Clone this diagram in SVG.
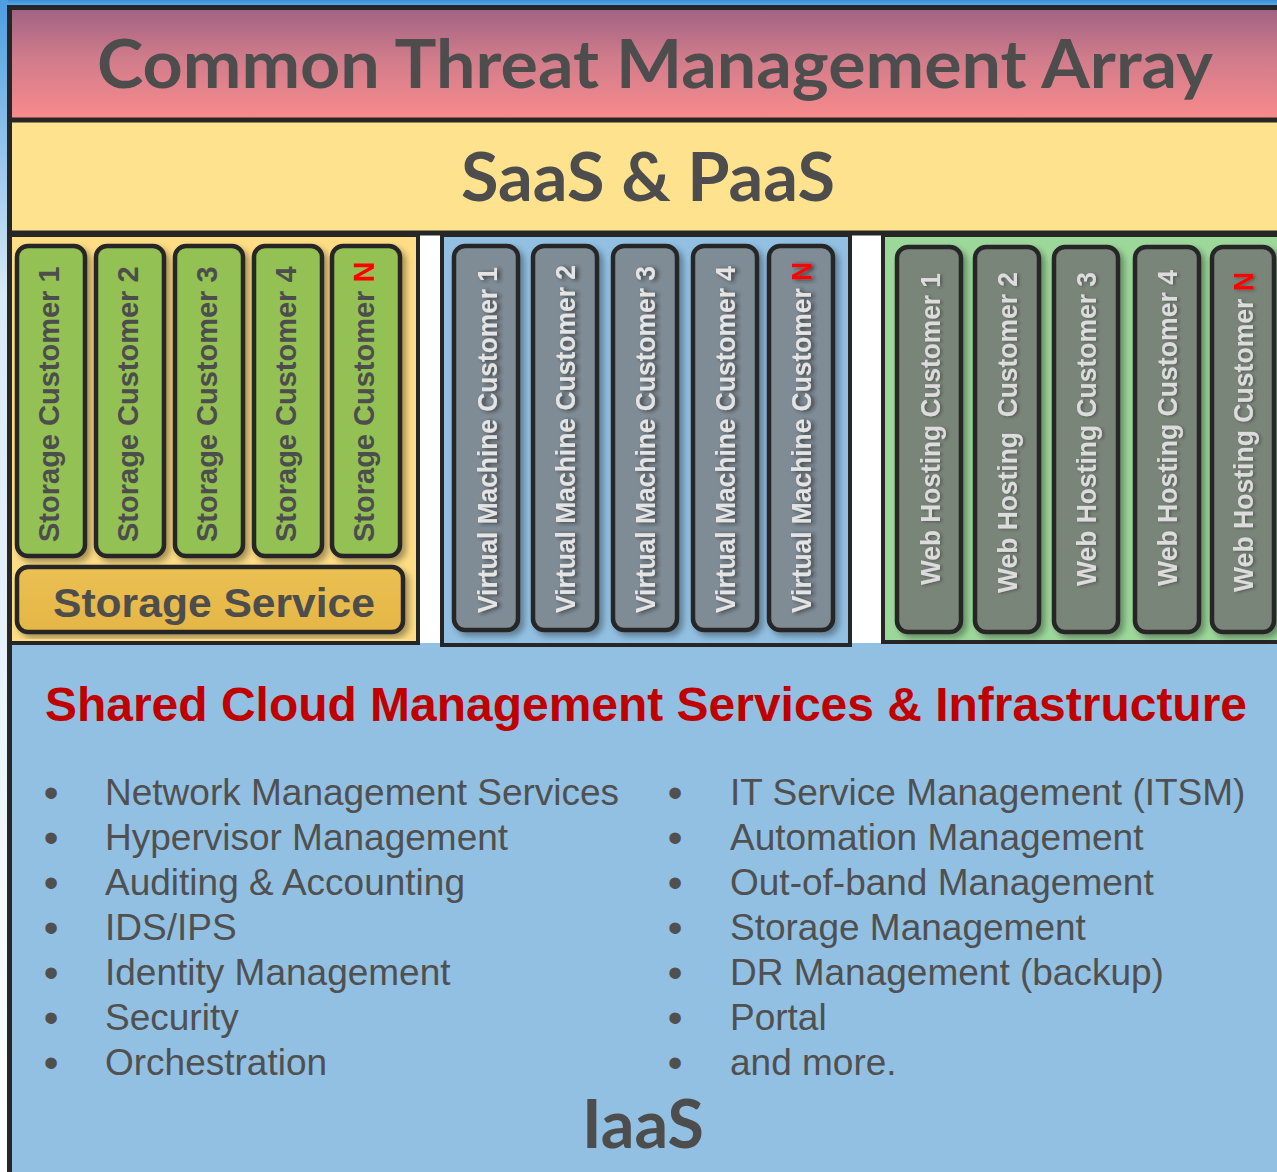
<svg xmlns="http://www.w3.org/2000/svg" width="1277" height="1172" viewBox="0 0 1277 1172">
<defs>
<linearGradient id="sky" x1="0" y1="0" x2="0" y2="1">
<stop offset="0" stop-color="#3a8fdc"/><stop offset="1" stop-color="#6cb8ee"/>
</linearGradient>
<linearGradient id="skyL" x1="0" y1="0" x2="0" y2="1">
<stop offset="0" stop-color="#4d9de0"/><stop offset="0.25" stop-color="#d8e9f7"/><stop offset="1" stop-color="#ffffff"/>
</linearGradient>
<linearGradient id="titleG" x1="0" y1="0" x2="0" y2="1">
<stop offset="0" stop-color="#a06283"/><stop offset="0.45" stop-color="#d07c8b"/><stop offset="1" stop-color="#f98b8c"/>
</linearGradient>
<linearGradient id="svcG" x1="0" y1="0" x2="0" y2="1">
<stop offset="0" stop-color="#ebc052"/><stop offset="1" stop-color="#e4b646"/>
</linearGradient>
<filter id="colShadow" x="-20%" y="-10%" width="150%" height="120%">
<feDropShadow dx="4" dy="4" stdDeviation="3" flood-color="#000" flood-opacity="0.35"/>
</filter>
<filter id="txtShadow" x="-10%" y="-40%" width="120%" height="200%">
<feDropShadow dx="-1" dy="3" stdDeviation="2" flood-color="#222" flood-opacity="0.75"/>
</filter>
<filter id="txtShadow2" x="-10%" y="-40%" width="120%" height="200%">
<feDropShadow dx="-1" dy="2" stdDeviation="1.5" flood-color="#333" flood-opacity="0.5"/>
</filter>
</defs>
<style>
.line{stroke:#262626;stroke-width:5;fill:none}
.sect{stroke:#262626;stroke-width:4}
.col{stroke:#262626;stroke-width:4.5;filter:url(#colShadow)}
.stor{fill:#93c152}
.vm{fill:#7f8c96}
.web{fill:#7a8579}
.big{font-family:Lato,"Open Sans",sans-serif;font-weight:700;font-size:67px;fill:#4d4d4d;text-anchor:middle}
.st{font-family:"Liberation Sans",Arial,sans-serif;font-weight:700;font-size:29px;fill:#4d4d4d}
.vt{font-family:"Liberation Sans",Arial,sans-serif;font-weight:700;font-size:27px;fill:#e4e4e4;filter:url(#txtShadow)}
.wt{font-family:"Liberation Sans",Arial,sans-serif;font-weight:700;font-size:27px;fill:#dcdcdc;filter:url(#txtShadow2);white-space:pre}
.n{fill:#ff0000}
.head{font-family:"Liberation Sans",Arial,sans-serif;font-weight:700;font-size:48px;fill:#c00000}
.bl{font-family:"Liberation Sans",Arial,sans-serif;font-size:37px;fill:#505050}
.bu{font-family:"Liberation Sans",Arial,sans-serif;font-size:42px;fill:#505050;text-anchor:middle}
</style>

<rect x="0" y="0" width="1277" height="1172" fill="#ffffff"/>
<rect x="0" y="0" width="1277" height="8" fill="url(#sky)"/>
<rect x="0" y="0" width="8" height="1172" fill="url(#skyL)"/>

<g id="title-band">
<rect x="10" y="8" width="1267" height="112" fill="url(#titleG)"/>
<text class="big" x="655" y="88" textLength="1116" lengthAdjust="spacingAndGlyphs">Common Threat Management Array</text>
</g>

<g id="saas-band">
<rect x="10" y="120" width="1267" height="113" fill="#fee28e"/>
<text class="big" x="648" y="201" textLength="374" lengthAdjust="spacingAndGlyphs">SaaS &amp; PaaS</text>
</g>

<g id="iaas">
<rect x="10" y="643" width="1267" height="529" fill="#92c0e2"/>
<text class="head" x="45" y="721" textLength="1202" lengthAdjust="spacingAndGlyphs">Shared Cloud Management Services &amp; Infrastructure</text>
<g id="list-left">
<text class="bu" x="51" y="807">•</text><text class="bl" x="105" y="805">Network Management Services</text>
<text class="bu" x="51" y="852">•</text><text class="bl" x="105" y="850">Hypervisor Management</text>
<text class="bu" x="51" y="897">•</text><text class="bl" x="105" y="895">Auditing &amp; Accounting</text>
<text class="bu" x="51" y="942">•</text><text class="bl" x="105" y="940">IDS/IPS</text>
<text class="bu" x="51" y="987">•</text><text class="bl" x="105" y="985">Identity Management</text>
<text class="bu" x="51" y="1032">•</text><text class="bl" x="105" y="1030">Security</text>
<text class="bu" x="51" y="1077">•</text><text class="bl" x="105" y="1075">Orchestration</text>
</g>
<g id="list-right">
<text class="bu" x="675" y="807">•</text><text class="bl" x="730" y="805">IT Service Management (ITSM)</text>
<text class="bu" x="675" y="852">•</text><text class="bl" x="730" y="850">Automation Management</text>
<text class="bu" x="675" y="897">•</text><text class="bl" x="730" y="895">Out-of-band Management</text>
<text class="bu" x="675" y="942">•</text><text class="bl" x="730" y="940">Storage Management</text>
<text class="bu" x="675" y="987">•</text><text class="bl" x="730" y="985">DR Management (backup)</text>
<text class="bu" x="675" y="1032">•</text><text class="bl" x="730" y="1030">Portal</text>
<text class="bu" x="675" y="1077">•</text><text class="bl" x="730" y="1075">and more.</text>
</g>
<text class="big" x="643" y="1148" textLength="122" lengthAdjust="spacingAndGlyphs">IaaS</text>
</g>

<g id="storage-section">
<rect class="sect" x="10" y="235" width="408" height="408" fill="#fedd84"/>
</g>
<g id="vm-section">
<rect class="sect" x="442" y="235" width="408" height="410" fill="#92c0e2"/>
</g>
<g id="web-section">
<rect class="sect" x="883" y="235" width="400" height="407" fill="#9dd89b"/>
</g>

<g id="frame">
<line class="line" x1="7" y1="7.5" x2="1277" y2="7.5"/>
<line class="line" x1="9.5" y1="5" x2="9.5" y2="1172"/>
<line class="line" x1="7" y1="120" x2="1277" y2="120"/>
<line class="line" x1="7" y1="233" x2="1277" y2="233"/>
</g>

<g id="storage-1"><rect class="col stor" x="17" y="246" width="68" height="310" rx="11"/><text class="st" transform="translate(59,542) rotate(-90)">Storage Customer 1</text></g>
<g id="storage-2"><rect class="col stor" x="96" y="246" width="68" height="310" rx="11"/><text class="st" transform="translate(138,542) rotate(-90)">Storage Customer 2</text></g>
<g id="storage-3"><rect class="col stor" x="175" y="246" width="68" height="310" rx="11"/><text class="st" transform="translate(217,542) rotate(-90)">Storage Customer 3</text></g>
<g id="storage-4"><rect class="col stor" x="254" y="246" width="68" height="310" rx="11"/><text class="st" transform="translate(296,542) rotate(-90)">Storage Customer 4</text></g>
<g id="storage-n"><rect class="col stor" x="332" y="246" width="68" height="310" rx="11"/><text class="st" transform="translate(374,542) rotate(-90)">Storage Customer <tspan class="n">N</tspan></text></g>
<g id="storage-service"><rect class="col" x="17" y="567" width="386" height="65" rx="11" fill="url(#svcG)"/><text class="st" x="214" y="617" text-anchor="middle" style="font-size:41px" textLength="322" lengthAdjust="spacingAndGlyphs">Storage Service</text></g>

<g id="vm-1"><rect class="col vm" x="454" y="246" width="64" height="384" rx="11"/><text class="vt" transform="translate(497,613) rotate(-90)" textLength="346" lengthAdjust="spacingAndGlyphs">Virtual Machine Customer 1</text></g>
<g id="vm-2"><rect class="col vm" x="533" y="246" width="64" height="384" rx="11"/><text class="vt" transform="translate(575,613) rotate(-90)" textLength="348" lengthAdjust="spacingAndGlyphs">Virtual Machine Customer 2</text></g>
<g id="vm-3"><rect class="col vm" x="613" y="246" width="64" height="384" rx="11"/><text class="vt" transform="translate(655,613) rotate(-90)" textLength="347" lengthAdjust="spacingAndGlyphs">Virtual Machine Customer 3</text></g>
<g id="vm-4"><rect class="col vm" x="693" y="246" width="64" height="384" rx="11"/><text class="vt" transform="translate(735,613) rotate(-90)" textLength="347" lengthAdjust="spacingAndGlyphs">Virtual Machine Customer 4</text></g>
<g id="vm-n"><rect class="col vm" x="769" y="246" width="64" height="384" rx="11"/><text class="vt" transform="translate(811,613) rotate(-90)" textLength="351" lengthAdjust="spacingAndGlyphs">Virtual Machine Customer <tspan class="n">N</tspan></text></g>

<g id="web-1"><rect class="col web" x="897" y="247" width="64" height="385" rx="11"/><text class="wt" transform="translate(940,585) rotate(-90)" textLength="312" lengthAdjust="spacingAndGlyphs">Web Hosting Customer 1</text></g>
<g id="web-2"><rect class="col web" x="975" y="247" width="64" height="385" rx="11"/><text class="wt" xml:space="preserve" transform="translate(1017,593) rotate(-90)" textLength="321" lengthAdjust="spacingAndGlyphs">Web Hosting  Customer 2</text></g>
<g id="web-3"><rect class="col web" x="1054" y="247" width="64" height="385" rx="11"/><text class="wt" transform="translate(1096,586) rotate(-90)" textLength="314" lengthAdjust="spacingAndGlyphs">Web Hosting Customer 3</text></g>
<g id="web-4"><rect class="col web" x="1135" y="247" width="64" height="385" rx="11"/><text class="wt" transform="translate(1177,586) rotate(-90)" textLength="316" lengthAdjust="spacingAndGlyphs">Web Hosting Customer 4</text></g>
<g id="web-n"><rect class="col web" x="1212" y="247" width="62" height="385" rx="11"/><text class="wt" transform="translate(1253,592) rotate(-90)" textLength="320" lengthAdjust="spacingAndGlyphs">Web Hosting Customer <tspan class="n">N</tspan></text></g>

<g id="connectors"></g>
</svg>
